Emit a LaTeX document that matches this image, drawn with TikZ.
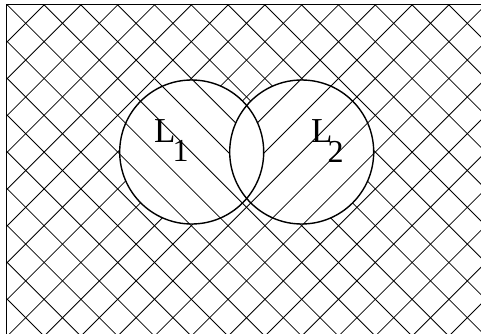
\documentclass[tikz,border=0pt]{standalone}
\usepackage{fontspec}
\setmainfont{Liberation Serif}
\begin{document}
\begin{tikzpicture}[x=1pt,y=1pt,
  hatch/.style={line width=0.8pt},
  ring/.style={line width=1.4pt},
  frame/.style={line width=1.6pt},
  lbl/.style={anchor=base west,inner sep=0pt,font=\fontsize{35}{40}\selectfont}]
\useasboundingbox (0,0) rectangle (481,-334);
\def\cA{(191.7,-152) circle (72)}
\def\cB{(301.7,-152) circle (72)}
\begin{scope}
  \clip (6.5,-4.7) rectangle (481,-334);
  % both families everywhere
  \foreach \k in {-10,...,14}{
    \pgfmathsetmacro\c{2.4+36.8*\k}
    \draw[hatch] ({\c-20},20) -- ({\c+420},-420);
  }
  \foreach \k in {0,...,24}{
    \pgfmathsetmacro\d{12.2+36.8*\k}
    \draw[hatch] ({\d+20},20) -- ({\d-420},-420);
  }
  \fill[white] \cA;
  \fill[white] \cB;
  \begin{scope}
    \clip \cA;
    \foreach \k in {-10,...,14}{
      \pgfmathsetmacro\c{2.4+36.8*\k}
      \draw[hatch] ({\c-20},20) -- ({\c+420},-420);
    }
  \end{scope}
  \begin{scope}
    \clip \cB;
    \foreach \k in {0,...,24}{
      \pgfmathsetmacro\d{12.2+36.8*\k}
      \draw[hatch] ({\d+20},20) -- ({\d-420},-420);
    }
  \end{scope}
  \begin{scope}
    \clip \cA;
    \fill[white] \cB;
  \end{scope}
\end{scope}
\draw[ring] (191.7,-152) circle (72);
\draw[ring] (301.7,-152) circle (72);
\coordinate (fa) at (6.5,-4.7);
\coordinate (fb) at (490,-345);
\begin{scope}
  \clip (0,0) rectangle (481,-334);
  \draw[frame] (fa) rectangle (fb);
\end{scope}
\node[lbl] (l1) at (154,-142) {L\kern-3pt\raisebox{-19pt}{\fontsize{32}{36}\selectfont 1}};
\node[lbl] (l2) at (311,-142) {L\kern-5pt\raisebox{-20pt}{\fontsize{32}{36}\selectfont 2}};
\end{tikzpicture}
\end{document}
